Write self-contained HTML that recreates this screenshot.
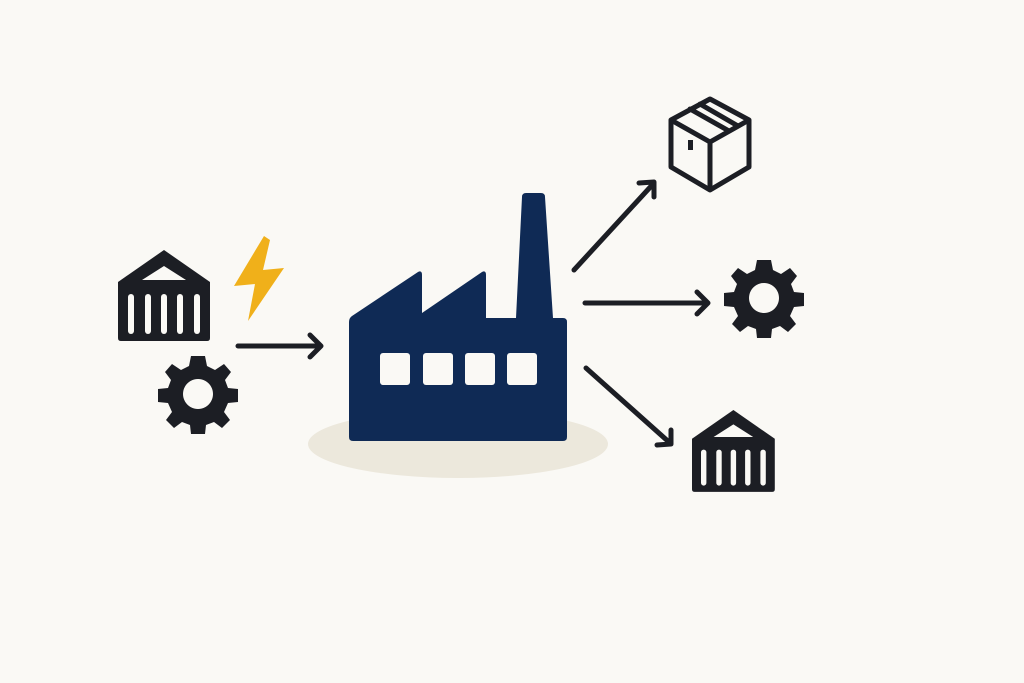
<!DOCTYPE html>
<html><head><meta charset="utf-8"><style>html,body{margin:0;padding:0;background:#faf9f5;}svg{display:block}</style></head>
<body>
<svg width="1024" height="683" viewBox="0 0 1024 683" xmlns="http://www.w3.org/2000/svg">
<rect width="1024" height="683" fill="#faf9f5"/>
<defs>
<g id="gear">
<path fill="#1c1e24" fill-rule="evenodd" d="M-7,-38 L7,-38 L9,-28 L17,-24 L26,-30 L33,-22 L27,-14 L30,-6 L40,-5 L40,8 L30,9 L26,18 L32,26 L24,34 L16,28 L8,31 L7,40 L-7,40 L-8,31 L-16,28 L-24,34 L-32,26 L-26,18 L-30,9 L-40,8 L-40,-5 L-30,-6 L-27,-14 L-33,-22 L-26,-30 L-17,-24 L-9,-28 Z M0,-15 A15,15 0 1,0 0.01,-15 Z"/>
</g>
<g id="cont">
<path fill="#1c1e24" d="M0,32 L46,0 L92,32 L92,88 Q92,91 89,91 L3,91 Q0,91 0,88 Z"/>
<path fill="#faf9f5" d="M24,30 L46,16 L68,30 Z"/>
<g fill="#faf9f5"><rect x="10" y="44" width="6" height="40" rx="3"/><rect x="27" y="44" width="6" height="40" rx="3"/><rect x="43" y="44" width="6" height="40" rx="3"/><rect x="59" y="44" width="6" height="40" rx="3"/><rect x="76" y="44" width="6" height="40" rx="3"/></g>
</g>
</defs>
<ellipse cx="458" cy="444" rx="150" ry="34" fill="#ece8dc"/>
<path fill="#0f2a55" d="M349,440 L349,322 Q349,318 352,316 L418,272 Q422,270 422,275 L422,313 L482,272 Q486,270 486,275 L486,318 L516,318 L522,197 Q522,193 526,193 L541,193 Q545,193 545,197 L553,318 L563,318 Q567,318 567,322 L567,437 Q567,441 563,441 L353,441 Q349,441 349,437 Z"/>
<g fill="#faf9f5"><rect x="380" y="353" width="30" height="32" rx="3"/><rect x="423" y="353" width="30" height="32" rx="3"/><rect x="465" y="353" width="30" height="32" rx="3"/><rect x="507" y="353" width="30" height="32" rx="3"/></g>
<use href="#cont" x="118" y="250"/>
<rect x="161" y="252" width="5" height="12" rx="2.5" fill="#1c1e24"/>
<use href="#cont" x="692" y="410" transform="translate(692 410) scale(0.9) translate(-692 -410)"/>
<use href="#gear" x="198" y="394"/>
<use href="#gear" x="764" y="298"/>
<path fill="#f0b01a" d="M264,236 L234,286 L255,284 L248,321 L284,268 L263,270 L270,240 Z"/>
<g stroke="#1c1e24" stroke-width="5" stroke-linecap="round" stroke-linejoin="round" fill="none">
<path d="M238,346 L320,346 M310,335 L321,346 L310,357"/>
<path d="M574,270 L654,183 M639,183 L654,182 L654,197"/>
<path d="M585,303 L706,303 M697,292 L708,303 L697,314"/>
<path d="M586,368 L670,443 M657,445 L671,444 L671,430"/>
<path d="M671,120 L710,99 L749,120 L749,167 L710,190 L671,167 Z M671,120 L710,142 L749,120 M710,142 L710,190 M690,109 L729,131 M700,104 L738,126"/>
</g>
<rect x="688" y="140" width="5" height="10" fill="#1c1e24"/>
</svg>
</body></html>
